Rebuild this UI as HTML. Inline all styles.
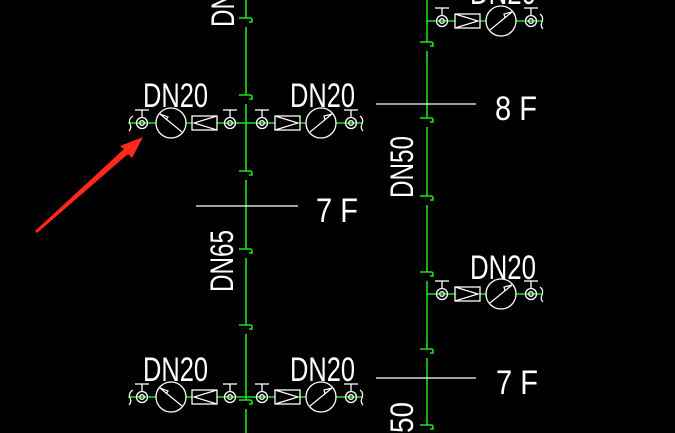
<!DOCTYPE html>
<html><head><meta charset="utf-8"><style>
html,body{margin:0;padding:0;background:#000;width:675px;height:433px;overflow:hidden;}
svg{display:block}
text{font-family:"Liberation Sans",sans-serif;fill:#fff;}
</style></head><body>
<svg width="675" height="433" viewBox="0 0 675 433" xmlns="http://www.w3.org/2000/svg" overflow="hidden">
<defs>
<g id="valve" fill="none" stroke="#fff" stroke-width="1.3">
  <circle cx="0" cy="0" r="5.5"/><circle cx="0" cy="0" r="2.3"/>
  <line x1="0" y1="-5.5" x2="0" y2="-13"/><line x1="-7" y1="-13" x2="7" y2="-13"/>
</g>
<g id="hook" fill="none" stroke="#1fe01f" stroke-width="1.6">
  <path d="M-7 0 H4 Q6 0 6 2 V4 H3"/>
</g>
<g id="asmL">
  <line x1="-118" y1="0" x2="0" y2="0" stroke="#1fe01f" stroke-width="1.6"/>
  <path d="M-113 -7 Q-118 -4 -116 1 Q-114 5 -117 8" fill="none" stroke="#fff" stroke-width="1.2"/>
  <use href="#valve" x="-104"/>
  <circle cx="-75" cy="0" r="15" fill="#000" stroke="#fff" stroke-width="1.3"/>
  <path d="M-86 -9 L-64 9 M-86 -9 L-78 -6 L-80 -3" fill="none" stroke="#fff" stroke-width="1.2"/>
  <rect x="-54" y="-7" width="25" height="14" fill="#000" stroke="#fff" stroke-width="1.3"/>
  <path d="M-29 -7 L-52 0 L-29 7" fill="none" stroke="#fff" stroke-width="1.2"/>
  <use href="#valve" x="-16"/>
</g>
<g id="asmR">
  <line x1="0" y1="0" x2="116" y2="0" stroke="#1fe01f" stroke-width="1.6"/>
  <use href="#valve" x="16"/>
  <rect x="29" y="-7" width="25" height="14" fill="#000" stroke="#fff" stroke-width="1.3"/>
  <path d="M29 -7 L52 0 L29 7" fill="none" stroke="#fff" stroke-width="1.2"/>
  <circle cx="75" cy="0" r="15" fill="#000" stroke="#fff" stroke-width="1.3"/>
  <path d="M64 9 L86 -9 M86 -9 L78 -7 L79 -3" fill="none" stroke="#fff" stroke-width="1.2"/>
  <use href="#valve" x="105"/>
  <path d="M114 -7 Q118 -4 116 1 Q114 5 117 8" fill="none" stroke="#fff" stroke-width="1.2"/>
</g>
</defs>

<g stroke="#1fe01f" stroke-width="1.6">
  <line x1="246" y1="0" x2="246" y2="18"/><line x1="246" y1="27" x2="246" y2="95"/>
  <line x1="246" y1="104" x2="246" y2="171"/><line x1="246" y1="180" x2="246" y2="249"/>
  <line x1="246" y1="258" x2="246" y2="325"/><line x1="246" y1="334" x2="246" y2="400"/>
  <line x1="246" y1="409" x2="246" y2="433"/>
  <line x1="427" y1="0" x2="427" y2="42"/><line x1="427" y1="51" x2="427" y2="118"/>
  <line x1="427" y1="127" x2="427" y2="196"/><line x1="427" y1="205" x2="427" y2="272"/>
  <line x1="427" y1="281" x2="427" y2="349"/><line x1="427" y1="358" x2="427" y2="425"/>
</g>
<use href="#hook" x="246" y="18"/><use href="#hook" x="246" y="95"/><use href="#hook" x="246" y="171"/>
<use href="#hook" x="246" y="249"/><use href="#hook" x="246" y="325"/><use href="#hook" x="246" y="400"/>
<use href="#hook" x="427" y="42"/><use href="#hook" x="427" y="118"/><use href="#hook" x="427" y="196"/>
<use href="#hook" x="427" y="272"/><use href="#hook" x="427" y="349"/><use href="#hook" x="427" y="425"/>

<use href="#asmL" x="246" y="123"/><use href="#asmR" x="246" y="123"/>
<use href="#asmL" x="246" y="397"/><use href="#asmR" x="246" y="397"/>
<use href="#asmR" x="426" y="21"/><use href="#asmR" x="426" y="294"/>

<g stroke="#fff" stroke-width="1.3">
  <line x1="376" y1="104" x2="476" y2="104"/>
  <line x1="196" y1="206" x2="298" y2="206"/>
  <line x1="376" y1="378" x2="476" y2="378"/>
</g>
<text x="495" y="120" font-size="34" textLength="42" lengthAdjust="spacingAndGlyphs">8 F</text>
<text x="316" y="222" font-size="34" textLength="42" lengthAdjust="spacingAndGlyphs">7 F</text>
<text x="496" y="394" font-size="34" textLength="42" lengthAdjust="spacingAndGlyphs">7 F</text>

<text x="143" y="107" font-size="34" textLength="65" lengthAdjust="spacingAndGlyphs">DN20</text>
<text x="290" y="107" font-size="34" textLength="65" lengthAdjust="spacingAndGlyphs">DN20</text>
<text x="143" y="381" font-size="34" textLength="65" lengthAdjust="spacingAndGlyphs">DN20</text>
<text x="290" y="381" font-size="34" textLength="65" lengthAdjust="spacingAndGlyphs">DN20</text>
<text x="470" y="279" font-size="34" textLength="66" lengthAdjust="spacingAndGlyphs">DN20</text>
<text x="470" y="4" font-size="34" textLength="66" lengthAdjust="spacingAndGlyphs">DN20</text>

<text transform="translate(233,292) rotate(-90)" font-size="32" textLength="62" lengthAdjust="spacingAndGlyphs">DN65</text>
<text transform="translate(413,198) rotate(-90)" font-size="32" textLength="62" lengthAdjust="spacingAndGlyphs">DN50</text>
<text transform="translate(234,27) rotate(-90)" font-size="32" textLength="62" lengthAdjust="spacingAndGlyphs">DN65</text>
<text transform="translate(413,433) rotate(-90)" font-size="32" textLength="31" lengthAdjust="spacingAndGlyphs">50</text>

<polygon points="35,231 124,149 120,146 143,137 132,158 128,154 37,233" fill="#ff2a1a"/>
</svg>
</body></html>
